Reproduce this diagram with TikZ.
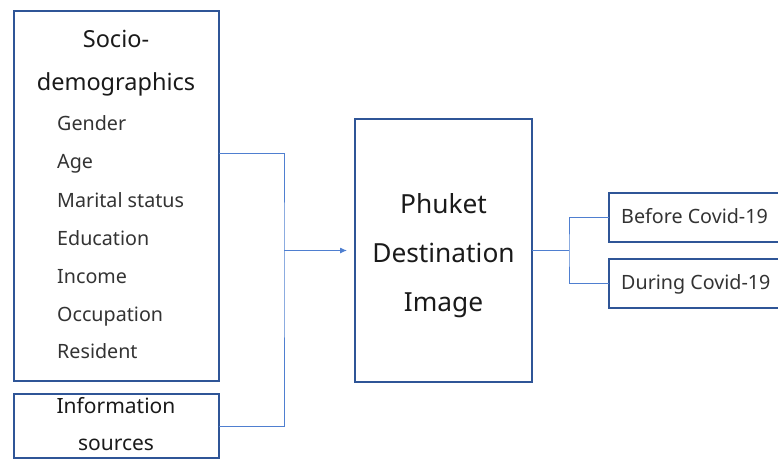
\documentclass[tikz,border=0pt]{standalone}
\usepackage{fontspec}
\setmainfont{Noto Sans}
\usetikzlibrary{arrows.meta}
\definecolor{boxblue}{HTML}{2F5597}
\definecolor{linkblue}{HTML}{4F7FD0}
\definecolor{txt}{HTML}{1A1A1A}
\definecolor{itm}{HTML}{333333}
\begin{document}
\begin{tikzpicture}[x=1pt,y=-1pt,
  box/.style={draw=boxblue,line width=2.7pt,inner sep=0pt,outer sep=0pt,anchor=north west},
  conn/.style={draw=linkblue,line width=1pt},
  ttl/.style={text=txt,font=\fontsize{23.5}{28}\selectfont,anchor=base,inner sep=0pt},
  srcttl/.style={text=txt,font=\fontsize{21}{25}\selectfont,anchor=base,inner sep=0pt},
  bigttl/.style={text=txt,font=\fontsize{26.3}{31}\selectfont,anchor=base,inner sep=0pt},
  itemtxt/.style={text=itm,font=\fontsize{19.7}{23}\selectfont,anchor=base west,inner sep=0pt}]
\useasboundingbox (0,0) rectangle (778,460);
\clip (0,0) rectangle (778,460);
% boxes
\node[box,minimum width=205pt,minimum height=370pt] (socio) at (14,11) {};
\node[box,minimum width=205pt,minimum height=64pt] (info) at (14,394) {};
\node[box,minimum width=177pt,minimum height=263pt] (phuket) at (355,119) {};
\node[box,minimum width=190pt,minimum height=49pt] (before) at (609,193) {};
\node[box,minimum width=190pt,minimum height=49pt] (during) at (609,259) {};
% texts
\node[ttl] (t1) at (116,48) {Socio-};
\node[ttl] (t2) at (116,90) {demographics};
\node[itemtxt] (i1) at (57,130) {Gender};
\node[itemtxt] (i2) at (57,168) {Age};
\node[itemtxt] (i3) at (57,207) {Marital status};
\node[itemtxt] (i4) at (57,245) {Education};
\node[itemtxt] (i5) at (57,283) {Income};
\node[itemtxt] (i6) at (57,321) {Occupation};
\node[itemtxt] (i7) at (57,358) {Resident};
\node[srcttl] (s1) at (116,413) {Information};
\node[srcttl] (s2) at (116,450) {sources};
\node[bigttl] (p1) at (443.5,213) {Phuket};
\node[bigttl] (p2) at (443.5,262) {Destination};
\node[bigttl] (p3) at (443.5,311) {Image};
\node[itemtxt] (b1) at (621,223) {Before Covid-19};
\node[itemtxt] (d1) at (621,289) {During Covid-19};
% connectors
\coordinate (j) at (284,250.5);
\coordinate (k) at (569,250.5);
\draw[conn] (socio.north east |- 0,153) -| (j) |- (info.east);
\draw[conn,-{Latex[length=7pt,width=6pt]},shorten >=8pt] (j) -- (j -| phuket.west);
\draw[conn] (phuket.east) -- (k);
\draw[conn] (before.west) -| (k) |- (during.west);
\end{tikzpicture}
\end{document}
